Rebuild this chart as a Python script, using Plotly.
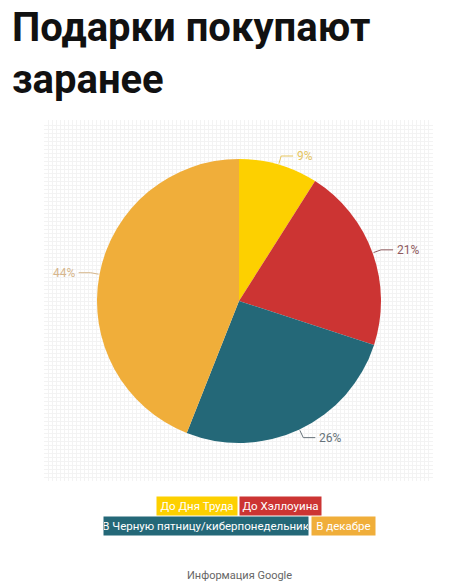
import math
import plotly.graph_objects as go

# data
categories = ["До Дня Труда", "До Хэллоуина", "В Черную пятницу/киберпонедельник", "В декабре"]
values = [9, 21, 26, 44]
slice_colors = ["#fdd000", "#cc3433", "#246878", "#f0ae3a"]
label_colors = ["#e6c55e", "#8e5a5e", "#66727a", "#d6b68c"]

W, H = 470, 583
PIE_CX, PIE_CY, PIE_R = 239, 301, 142      # pie centre / radius in page pixels
GX0, GX1, GY0, GY1 = 44, 433, 120, 481     # grid box in page pixels

small_font = "Roboto, sans-serif"

fig = go.Figure()

# empty trace so the faint grid background gets drawn
fig.add_trace(go.Scatter(x=[None], y=[None], showlegend=False, hoverinfo="skip"))

fig.add_trace(go.Pie(
    labels=categories,
    values=values,
    sort=False,
    direction="clockwise",
    rotation=0,
    marker=dict(colors=slice_colors, line=dict(width=0)),
    textinfo="none",
    showlegend=False,
    hoverinfo="label+percent",
    domain=dict(x=[(PIE_CX - PIE_R) / W, (PIE_CX + PIE_R) / W],
                y=[1 - (PIE_CY + PIE_R) / H, 1 - (PIE_CY - PIE_R) / H]),
))

# leader lines + percentage labels (axes run 1 unit = 1 pixel)
def ax(px, py):
    return px - GX0, GY1 - py

total = sum(values)
cum = 0
for v, col in zip(values, label_colors):
    mid = (cum + v / 2) / total * 2 * math.pi
    cum += v
    s, c = math.sin(mid), math.cos(mid)
    side = 1 if s >= 0 else -1
    p0 = (PIE_CX + (PIE_R + 1) * s, PIE_CY - (PIE_R + 1) * c)
    p1 = (PIE_CX + (PIE_R + 9) * s, PIE_CY - (PIE_R + 9) * c)
    p2 = (p1[0] + 12 * side, p1[1])
    pts = [ax(*p) for p in (p0, p1, p2)]
    fig.add_trace(go.Scatter(
        x=[p[0] for p in pts], y=[p[1] for p in pts], mode="lines",
        line=dict(color=col, width=1), showlegend=False, hoverinfo="skip",
    ))
    tx, ty = ax(p2[0] + 2 * side, p2[1])
    fig.add_annotation(
        x=tx, y=ty, xref="x", yref="y", text=f"{v}%", showarrow=False,
        xanchor="left" if side > 0 else "right", yanchor="middle",
        font=dict(family=small_font, size=12, color=col),
    )

grid = dict(showgrid=True, gridcolor="#f3f3f3", gridwidth=1, zeroline=False,
            showticklabels=False, ticks="", showline=False, fixedrange=True)
fig.update_xaxes(range=[0, GX1 - GX0], dtick=4, domain=[GX0 / W, GX1 / W], **grid)
fig.update_yaxes(range=[0, GY1 - GY0], dtick=4, domain=[1 - GY1 / H, 1 - GY0 / H], **grid)

# title
fig.add_annotation(
    text="Подарки покупают<br>заранее",
    x=10 / W, y=1 - 2 / H, xref="paper", yref="paper",
    xanchor="left", yanchor="top", align="left", showarrow=False,
    font=dict(family="Roboto", size=40, color="#111111", weight="bold"),
)

# legend boxes: (center x, center y, width)
legend_font = dict(family=small_font, size=11.5, color="white")
legend_boxes = [(196.7, 505.5, 80), (280.5, 505.5, 81), (206, 526, 204), (343.3, 526, 63)]
for name, col, (cx, cy, bw) in zip(categories, slice_colors, legend_boxes):
    fig.add_annotation(
        text=name, x=cx / W, y=1 - cy / H, xref="paper", yref="paper",
        xanchor="center", yanchor="middle", showarrow=False,
        width=bw, height=18, bgcolor=col, borderpad=0, font=legend_font,
    )

fig.add_annotation(
    text="Информация Google", x=240 / W, y=1 - 575 / H, xref="paper", yref="paper",
    xanchor="center", yanchor="middle", showarrow=False,
    font=dict(family=small_font, size=11, color="#666666"),
)

fig.update_layout(
    width=W, height=H,
    margin=dict(l=0, r=0, t=0, b=0),
    paper_bgcolor="white", plot_bgcolor="white",
)

fig.write_html("out.html", config={"displayModeBar": False},
               post_script="document.body.style.margin='0px';")
